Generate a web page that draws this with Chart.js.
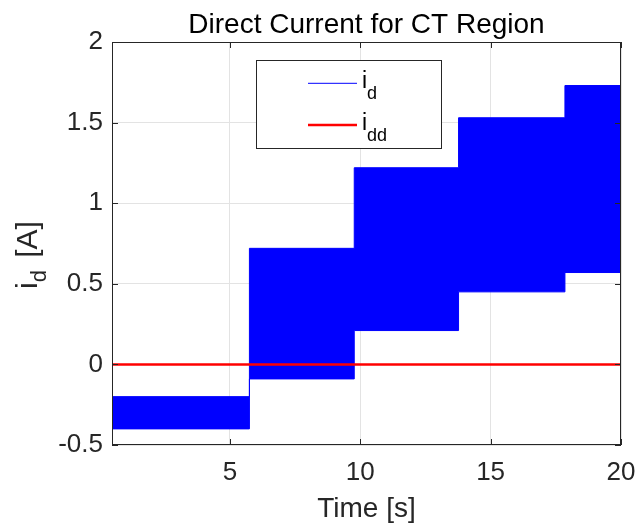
<!DOCTYPE html>
<html>
<head>
<meta charset="utf-8">
<script src="https://cdn.jsdelivr.net/npm/chart.js@4.4.1/dist/chart.umd.min.js"></script>
<style>
  html, body { margin: 0; padding: 0; background: #fff; }
  #wrap { width: 635px; height: 526px; }
</style>
</head>
<body>
<div id="wrap"><canvas id="chart" width="635" height="526"></canvas></div>
<script>
  // time where each current step starts, last entry is the end of the run
  const stepTimes = [0.48, 5.75, 9.77, 13.77, 17.85, 20];
  // upper and lower edge of the i_d ripple band for each step
  const idUpper = [-0.20, 0.72, 1.22, 1.53, 1.73];
  const idLower = [-0.40, -0.09, 0.21, 0.45, 0.57];
  // reference current i_dd
  const iddTimes = [0.48, 20];
  const iddValues = [0, 0];

  const xTicks = [5, 10, 15, 20];
  const yTicks = [-0.5, 0, 0.5, 1, 1.5, 2];

  const FONT = "'Liberation Sans', Arial, Helvetica, sans-serif";
  const TEXT = '#262626';
  const GRID = '#e3e3e3';

  const stepPoints = (levels) => {
    const pts = levels.map((v, i) => ({ x: stepTimes[i], y: v }));
    pts.push({ x: stepTimes[stepTimes.length - 1], y: levels[levels.length - 1] });
    return pts;
  };

  const drawSub = (ctx, x, y, main, sub, size, subSize, drop) => {
    ctx.font = size + 'px ' + FONT;
    ctx.fillText(main, x, y);
    const w = ctx.measureText(main).width;
    ctx.font = subSize + 'px ' + FONT;
    ctx.fillText(sub, x + w, y + drop);
    return w + ctx.measureText(sub).width;
  };

  const matlabLook = {
    id: 'matlabLook',
    afterDatasetsDraw(chart) {
      const { ctx, chartArea: a, scales } = chart;
      ctx.save();
      ctx.strokeStyle = TEXT;
      ctx.lineWidth = 1;
      ctx.strokeRect(Math.round(a.left) + 0.5, Math.round(a.top) + 0.5,
        Math.round(a.right - a.left) - 1, Math.round(a.bottom - a.top) - 1);
      ctx.beginPath();
      xTicks.forEach((t) => {
        const x = Math.round(scales.x.getPixelForValue(t)) + 0.5;
        ctx.moveTo(x, a.bottom); ctx.lineTo(x, a.bottom - 6);
        ctx.moveTo(x, a.top); ctx.lineTo(x, a.top + 6);
      });
      yTicks.forEach((t) => {
        const y = Math.round(scales.y.getPixelForValue(t)) + 0.5;
        ctx.moveTo(a.left, y); ctx.lineTo(a.left + 6, y);
        ctx.moveTo(a.right, y); ctx.lineTo(a.right - 6, y);
      });
      ctx.stroke();
      ctx.restore();
    },
    afterDraw(chart) {
      const { ctx, chartArea: a } = chart;
      const cx = (a.left + a.right) / 2;
      ctx.save();
      ctx.textBaseline = 'alphabetic';

      // title
      ctx.fillStyle = '#000';
      ctx.textAlign = 'center';
      ctx.font = '28px ' + FONT;
      ctx.fillText('Direct Current for CT Region', cx, 33);

      // x label
      ctx.fillStyle = TEXT;
      ctx.font = '28px ' + FONT;
      ctx.fillText('Time [s]', cx, 517);

      // y label with subscript
      ctx.save();
      ctx.translate(37, 255);
      ctx.rotate(-Math.PI / 2);
      ctx.textAlign = 'left';
      ctx.font = '30px ' + FONT;
      const w1 = ctx.measureText('i').width;
      ctx.font = '22px ' + FONT;
      const w2 = ctx.measureText('d').width;
      ctx.font = '30px ' + FONT;
      const w3 = ctx.measureText(' [A]').width + 4;
      const start = -(w1 + w2 + w3) / 2;
      const used = drawSub(ctx, start, 0, 'i', 'd', 30, 22, 9);
      ctx.font = '30px ' + FONT;
      ctx.fillText(' [A]', start + used + 4, 0);
      ctx.restore();

      // legend box
      ctx.fillStyle = '#fff';
      ctx.fillRect(256, 60, 185, 88);
      ctx.strokeStyle = TEXT;
      ctx.lineWidth = 1;
      ctx.strokeRect(256.5, 60.5, 185, 88);

      ctx.strokeStyle = '#0000ff';
      ctx.lineWidth = 1;
      ctx.beginPath(); ctx.moveTo(308, 83.3); ctx.lineTo(357, 83.3); ctx.stroke();
      ctx.strokeStyle = '#ff0000';
      ctx.lineWidth = 2.5;
      ctx.beginPath(); ctx.moveTo(308, 125); ctx.lineTo(357, 125); ctx.stroke();

      ctx.fillStyle = '#000';
      ctx.textAlign = 'left';
      drawSub(ctx, 362, 88, 'i', 'd', 23, 18, 11);
      drawSub(ctx, 362, 130, 'i', 'dd', 23, 18, 11);
      ctx.restore();
    }
  };

  new Chart(document.getElementById('chart'), {
    type: 'line',
    data: {
      datasets: [
        {
          label: 'i_dd',
          data: iddTimes.map((t, i) => ({ x: t, y: iddValues[i] })),
          borderColor: '#ff0000',
          borderWidth: 2.5,
          pointRadius: 0,
          fill: false,
        },
        {
          label: 'i_d',
          data: stepPoints(idUpper),
          borderColor: '#0000ff',
          backgroundColor: '#0000ff',
          borderWidth: 1,
          pointRadius: 0,
          stepped: 'before',
          fill: '+1',
        },
        {
          label: 'i_d low',
          data: stepPoints(idLower),
          borderColor: '#0000ff',
          borderWidth: 1,
          pointRadius: 0,
          stepped: 'before',
          fill: false,
        },
      ],
    },
    options: {
      responsive: false,
      animation: false,
      events: [],
      layout: { padding: { top: 42, right: 14, left: 0, bottom: 0 } },
      plugins: { legend: { display: false }, tooltip: { enabled: false }, title: { display: false } },
      scales: {
        x: {
          type: 'linear',
          min: stepTimes[0],
          max: stepTimes[stepTimes.length - 1],
          afterBuildTicks: (scale) => { scale.ticks = xTicks.map((v) => ({ value: v })); },
          afterFit: (scale) => {
            scale.height = 81;
            scale.paddingLeft = 0;
            scale.paddingRight = 0;
          },
          grid: { color: GRID, drawTicks: false },
          border: { display: false },
          ticks: {
            color: TEXT,
            font: { family: FONT, size: 26, lineHeight: 1.2 },
            padding: 12,
            maxRotation: 0,
            autoSkip: false,
            callback: (v) => String(v),
          },
        },
        y: {
          type: 'linear',
          min: yTicks[0],
          max: yTicks[yTicks.length - 1],
          afterBuildTicks: (scale) => { scale.ticks = yTicks.map((v) => ({ value: v })); },
          afterFit: (scale) => {
            scale.width = 112;
            scale.paddingTop = 0;
            scale.paddingBottom = 0;
          },
          grid: { color: GRID, drawTicks: false },
          border: { display: false },
          ticks: {
            color: TEXT,
            font: { family: FONT, size: 26, lineHeight: 1.2 },
            padding: 9,
            autoSkip: false,
            callback: (v) => String(v),
          },
        },
      },
    },
    plugins: [matlabLook],
  });
</script>
</body>
</html>
